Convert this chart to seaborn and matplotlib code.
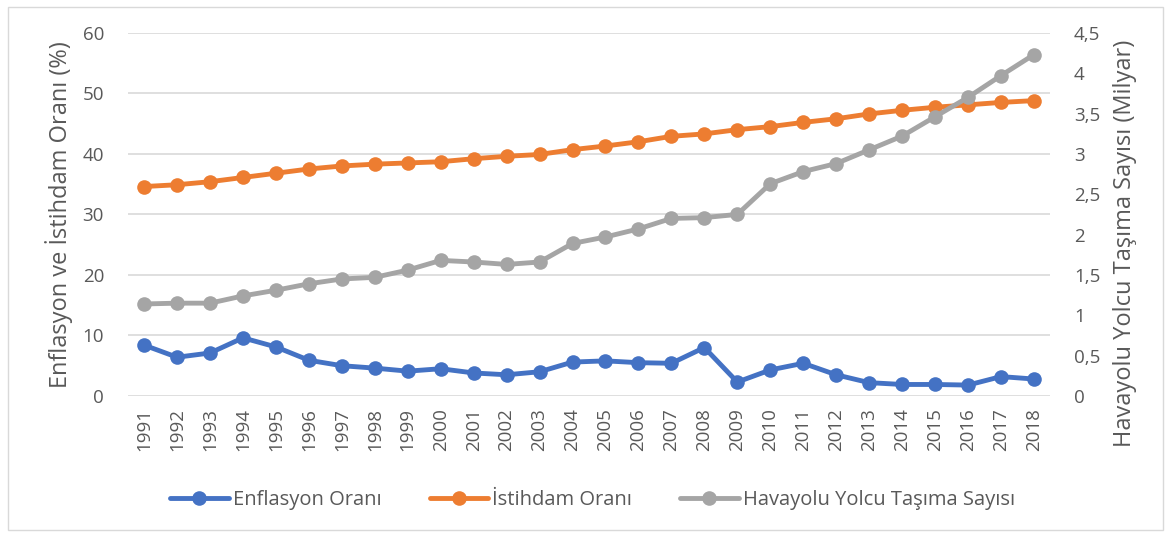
import matplotlib
matplotlib.use("Agg")
import matplotlib.pyplot as plt
from matplotlib.lines import Line2D
from matplotlib.patches import Rectangle
from matplotlib.ticker import FuncFormatter, MultipleLocator
import seaborn as sns
import pandas as pd

# data
years = list(range(1991, 2019))
enflasyon = [8.4, 6.4, 7.1, 9.6, 8.1, 5.9, 5.0, 4.6, 4.1, 4.5, 3.8, 3.5, 4.0, 5.6,
             5.8, 5.5, 5.4, 8.0, 2.3, 4.3, 5.4, 3.5, 2.2, 1.9, 1.9, 1.8, 3.2, 2.8]
istihdam = [34.6, 34.9, 35.4, 36.1, 36.8, 37.5, 38.0, 38.3, 38.5, 38.7, 39.2, 39.6, 39.9, 40.7,
            41.3, 42.0, 42.9, 43.3, 44.0, 44.5, 45.2, 45.8, 46.6, 47.2, 47.7, 48.1, 48.5, 48.8]
havayolu = [1.14, 1.15, 1.15, 1.24, 1.31, 1.39, 1.45, 1.47, 1.56, 1.68, 1.66, 1.63, 1.66, 1.89,
            1.97, 2.07, 2.20, 2.21, 2.25, 2.63, 2.78, 2.88, 3.05, 3.22, 3.46, 3.70, 3.97, 4.23]

labels = ["Enflasyon Oranı", "İstihdam Oranı", "Havayolu Yolcu Taşıma Sayısı"]
colors = ["#4472C4", "#ED7D31", "#A5A5A5"]

df = pd.DataFrame({"pos": range(len(years)), "enf": enflasyon,
                   "ist": istihdam, "hav": havayolu})

sns.set_style("white")
plt.rcParams["font.family"] = ["Open Sans", "DejaVu Sans"]
text_color = "#595959"

fig = plt.figure(figsize=(11.71, 5.38), dpi=100)
ax = fig.add_axes([0.109, 0.264, 0.788, 0.675])
ax2 = ax.twinx()

line_kw = dict(marker="o", markersize=10.5, linewidth=3.5, markeredgewidth=0)
sns.lineplot(data=df, x="pos", y="enf", color=colors[0], ax=ax, zorder=3, **line_kw)
sns.lineplot(data=df, x="pos", y="ist", color=colors[1], ax=ax, zorder=3, **line_kw)
sns.lineplot(data=df, x="pos", y="hav", color=colors[2], ax=ax2, zorder=3, **line_kw)

ax.set_xlim(-0.5, len(years) - 0.5)
ax.set_ylim(0, 60)
ax2.set_ylim(0, 4.5)
ax.yaxis.set_major_locator(MultipleLocator(10))
ax2.yaxis.set_major_locator(MultipleLocator(0.5))
ax2.yaxis.set_major_formatter(FuncFormatter(lambda v, p: f"{v:g}".replace(".", ",")))

ax.set_xticks(range(len(years)))
ax.set_xticklabels([str(y) for y in years], rotation=90)

ax.grid(axis="y", color="#D9D9D9", linewidth=1.2)
ax.set_axisbelow(True)
for a in (ax, ax2):
    for s in a.spines.values():
        s.set_visible(False)
    a.tick_params(length=0, labelsize=13.5, labelcolor=text_color)
ax.tick_params(axis="y", pad=17)
ax2.tick_params(axis="y", pad=17)
ax.tick_params(axis="x", pad=9)

ax.set_xlabel("")
ax.set_ylabel("Enflasyon ve İstihdam Oranı (%)", fontsize=17, color=text_color, labelpad=7)
ax2.set_ylabel("Havayolu Yolcu Taşıma Sayısı (Milyar)", fontsize=17, color=text_color, labelpad=9)
# the right title sits a bit below the middle in the original
ax2.yaxis.label.set_y(0.42)

handles = [Line2D([0], [0], color=c, linewidth=3.5, marker="o", markersize=10.5,
                  markeredgewidth=0) for c in colors]
fig.legend(handles, labels, loc="center", bbox_to_anchor=(0.506, 0.07), ncol=3,
           frameon=False, fontsize=14.5, labelcolor=text_color, handlelength=2.9,
           handletextpad=0.2, columnspacing=2.4)

fig.patches.append(Rectangle((0.007, 0.015), 0.986, 0.972, transform=fig.transFigure,
                             fill=False, edgecolor="#D9D9D9", linewidth=1))

fig.savefig("out.png", dpi=100)
